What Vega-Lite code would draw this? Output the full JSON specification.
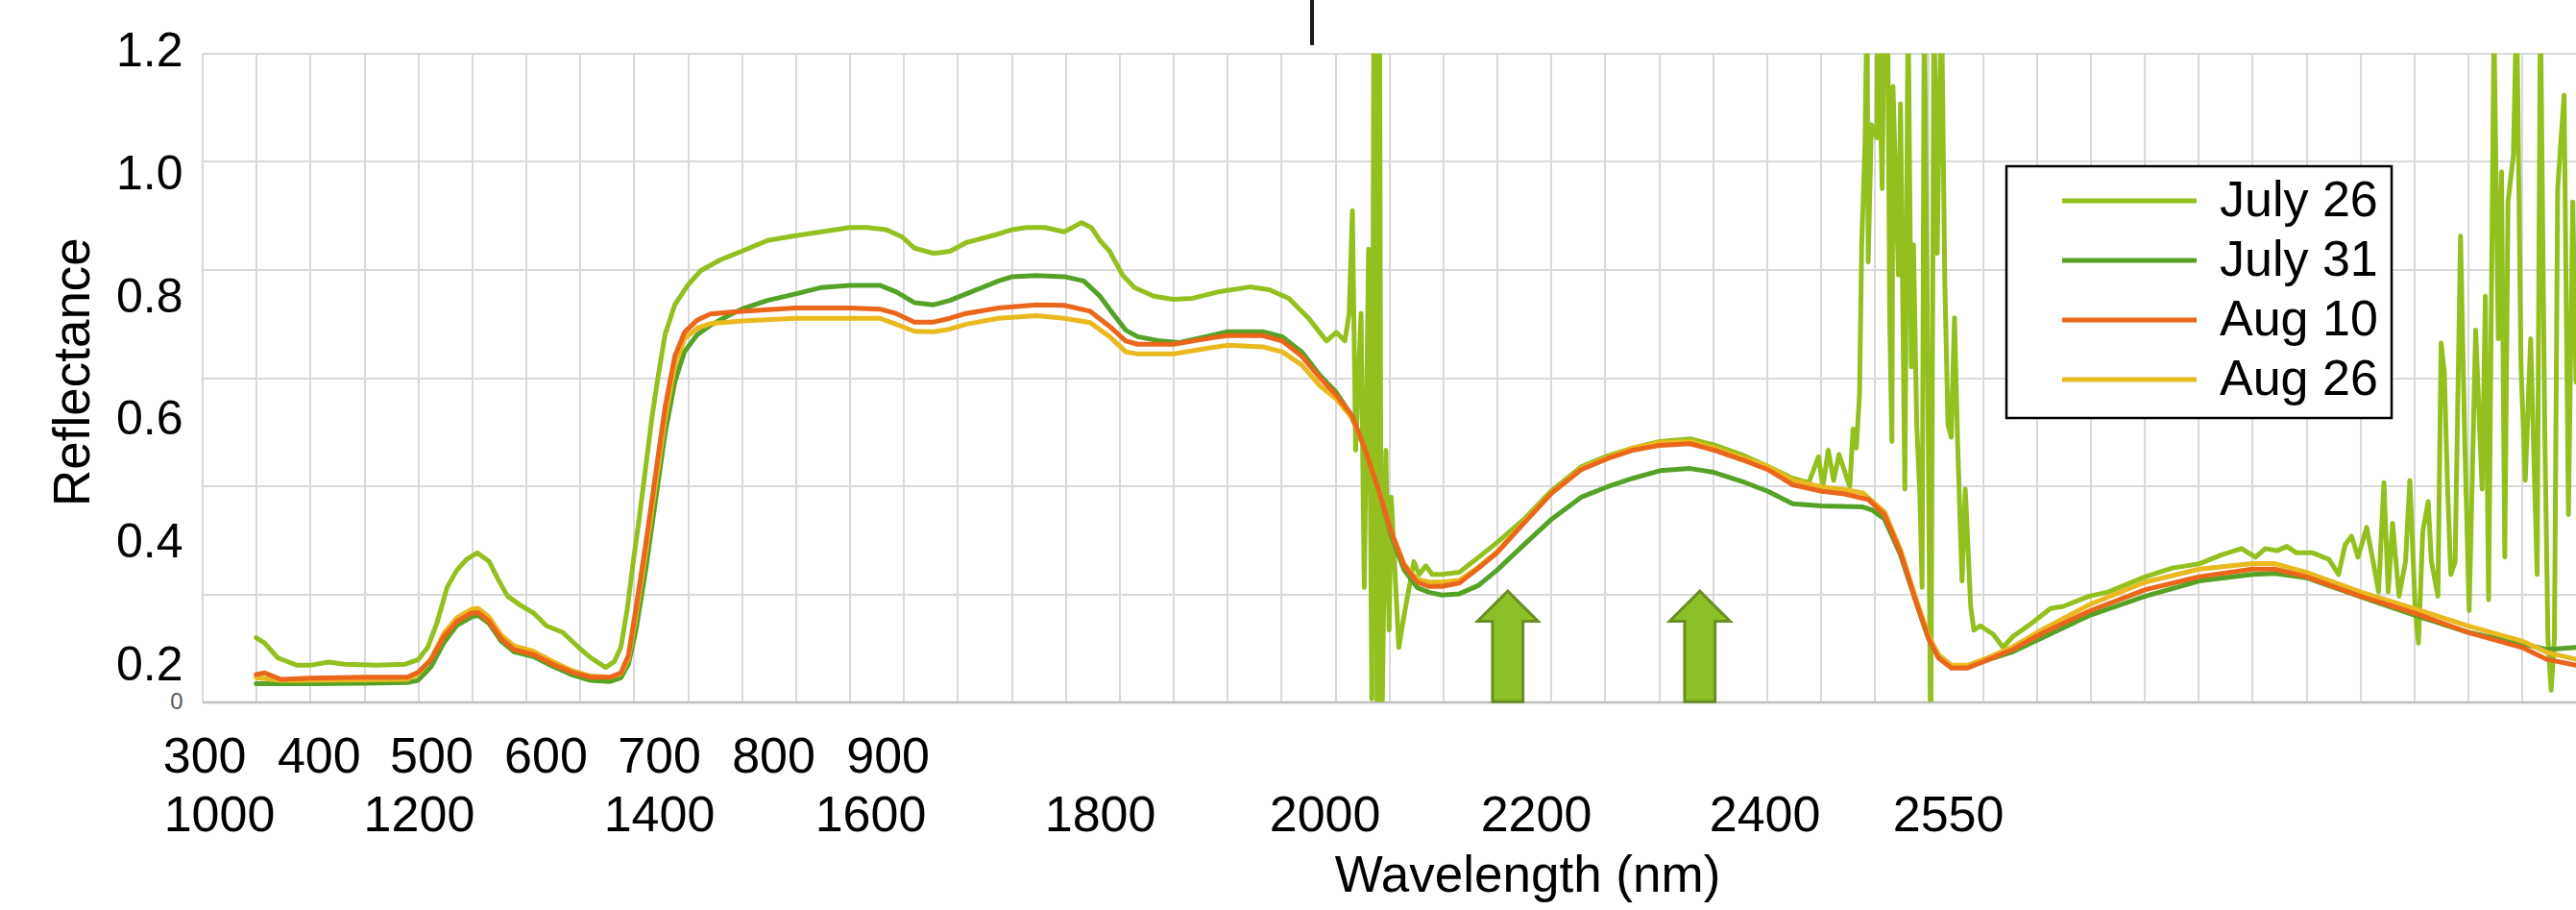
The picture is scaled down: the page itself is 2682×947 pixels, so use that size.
{
"$schema": "https://vega.github.io/schema/vega-lite/v6.json",
"width": 2471.5, "height": 675,
"autosize": {"type": "none"},
"padding": {"left": 210.5, "top": 55.6, "right": 0, "bottom": 216.4},
"background": "white",
"config": {"font": "Liberation Sans", "view": {"stroke": null}},
"datasets": {
"spectra": [
{"s":"July 26","nm":350,"r":0.119},{"s":"July 26","nm":358,"r":0.109},{"s":"July 26","nm":370,"r":0.082},{"s":"July 26","nm":388,"r":0.068},{"s":"July 26","nm":400,"r":0.068},{"s":"July 26","nm":417,"r":0.074},{"s":"July 26","nm":432,"r":0.070},{"s":"July 26","nm":462,"r":0.068},{"s":"July 26","nm":488,"r":0.070},{"s":"July 26","nm":500,"r":0.078},{"s":"July 26","nm":509,"r":0.101},{"s":"July 26","nm":518,"r":0.149},{"s":"July 26","nm":527,"r":0.212},{"s":"July 26","nm":536,"r":0.244},{"s":"July 26","nm":545,"r":0.264},{"s":"July 26","nm":555,"r":0.276},{"s":"July 26","nm":566,"r":0.260},{"s":"July 26","nm":574,"r":0.228},{"s":"July 26","nm":583,"r":0.196},{"s":"July 26","nm":595,"r":0.179},{"s":"July 26","nm":607,"r":0.165},{"s":"July 26","nm":619,"r":0.141},{"s":"July 26","nm":634,"r":0.129},{"s":"July 26","nm":649,"r":0.101},{"s":"July 26","nm":660,"r":0.082},{"s":"July 26","nm":674,"r":0.064},{"s":"July 26","nm":682,"r":0.075},{"s":"July 26","nm":688,"r":0.101},{"s":"July 26","nm":694,"r":0.173},{"s":"July 26","nm":699,"r":0.252},{"s":"July 26","nm":705,"r":0.339},{"s":"July 26","nm":711,"r":0.434},{"s":"July 26","nm":717,"r":0.529},{"s":"July 26","nm":723,"r":0.608},{"s":"July 26","nm":729,"r":0.680},{"s":"July 26","nm":738,"r":0.735},{"s":"July 26","nm":750,"r":0.771},{"s":"July 26","nm":762,"r":0.798},{"s":"July 26","nm":780,"r":0.818},{"s":"July 26","nm":800,"r":0.834},{"s":"July 26","nm":824,"r":0.854},{"s":"July 26","nm":850,"r":0.863},{"s":"July 26","nm":874,"r":0.870},{"s":"July 26","nm":900,"r":0.878},{"s":"July 26","nm":916,"r":0.878},{"s":"July 26","nm":934,"r":0.874},{"s":"July 26","nm":949,"r":0.860},{"s":"July 26","nm":960,"r":0.840},{"s":"July 26","nm":978,"r":0.830},{"s":"July 26","nm":993,"r":0.834},{"s":"July 26","nm":1008,"r":0.850},{"s":"July 26","nm":1023,"r":0.858},{"s":"July 26","nm":1038,"r":0.866},{"s":"July 26","nm":1051,"r":0.874},{"s":"July 26","nm":1064,"r":0.878},{"s":"July 26","nm":1081,"r":0.878},{"s":"July 26","nm":1099,"r":0.870},{"s":"July 26","nm":1115,"r":0.887},{"s":"July 26","nm":1124,"r":0.878},{"s":"July 26","nm":1132,"r":0.854},{"s":"July 26","nm":1141,"r":0.834},{"s":"July 26","nm":1153,"r":0.790},{"s":"July 26","nm":1164,"r":0.767},{"s":"July 26","nm":1182,"r":0.751},{"s":"July 26","nm":1200,"r":0.745},{"s":"July 26","nm":1218,"r":0.747},{"s":"July 26","nm":1242,"r":0.759},{"s":"July 26","nm":1271,"r":0.768},{"s":"July 26","nm":1289,"r":0.763},{"s":"July 26","nm":1307,"r":0.747},{"s":"July 26","nm":1325,"r":0.711},{"s":"July 26","nm":1342,"r":0.668},{"s":"July 26","nm":1351,"r":0.684},{"s":"July 26","nm":1359,"r":0.668},{"s":"July 26","nm":1363,"r":0.719},{"s":"July 26","nm":1366,"r":0.909},{"s":"July 26","nm":1369,"r":0.466},{"s":"July 26","nm":1374,"r":0.719},{"s":"July 26","nm":1377,"r":0.212},{"s":"July 26","nm":1381,"r":0.838},{"s":"July 26","nm":1384,"r":0.006},{"s":"July 26","nm":1386,"r":1.4},{"s":"July 26","nm":1389,"r":-0.1},{"s":"July 26","nm":1391,"r":1.4},{"s":"July 26","nm":1393,"r":-0.1},{"s":"July 26","nm":1397,"r":0.466},{"s":"July 26","nm":1400,"r":0.133},{"s":"July 26","nm":1402,"r":0.379},{"s":"July 26","nm":1409,"r":0.101},{"s":"July 26","nm":1415,"r":0.173},{"s":"July 26","nm":1423,"r":0.260},{"s":"July 26","nm":1428,"r":0.236},{"s":"July 26","nm":1434,"r":0.252},{"s":"July 26","nm":1440,"r":0.236},{"s":"July 26","nm":1449,"r":0.236},{"s":"July 26","nm":1465,"r":0.240},{"s":"July 26","nm":1483,"r":0.268},{"s":"July 26","nm":1500,"r":0.295},{"s":"July 26","nm":1525,"r":0.338},{"s":"July 26","nm":1551,"r":0.392},{"s":"July 26","nm":1578,"r":0.435},{"s":"July 26","nm":1602,"r":0.455},{"s":"July 26","nm":1626,"r":0.470},{"s":"July 26","nm":1651,"r":0.482},{"s":"July 26","nm":1679,"r":0.487},{"s":"July 26","nm":1701,"r":0.476},{"s":"July 26","nm":1730,"r":0.455},{"s":"July 26","nm":1751,"r":0.436},{"s":"July 26","nm":1774,"r":0.414},{"s":"July 26","nm":1789,"r":0.406},{"s":"July 26","nm":1798,"r":0.454},{"s":"July 26","nm":1802,"r":0.398},{"s":"July 26","nm":1807,"r":0.466},{"s":"July 26","nm":1812,"r":0.410},{"s":"July 26","nm":1817,"r":0.458},{"s":"July 26","nm":1827,"r":0.398},{"s":"July 26","nm":1830,"r":0.505},{"s":"July 26","nm":1833,"r":0.470},{"s":"July 26","nm":1836,"r":0.569},{"s":"July 26","nm":1838,"r":0.846},{"s":"July 26","nm":1841,"r":1.028},{"s":"July 26","nm":1843,"r":1.3},{"s":"July 26","nm":1844,"r":0.814},{"s":"July 26","nm":1847,"r":1.068},{"s":"July 26","nm":1852,"r":1.044},{"s":"July 26","nm":1853,"r":1.3},{"s":"July 26","nm":1857,"r":0.95},{"s":"July 26","nm":1859,"r":1.3},{"s":"July 26","nm":1862,"r":1.3},{"s":"July 26","nm":1864,"r":0.703},{"s":"July 26","nm":1866,"r":0.482},{"s":"July 26","nm":1867,"r":1.139},{"s":"July 26","nm":1872,"r":0.790},{"s":"July 26","nm":1874,"r":1.107},{"s":"July 26","nm":1878,"r":0.394},{"s":"July 26","nm":1881,"r":1.3},{"s":"July 26","nm":1884,"r":0.62},{"s":"July 26","nm":1886,"r":0.846},{"s":"July 26","nm":1889,"r":0.513},{"s":"July 26","nm":1892,"r":0.379},{"s":"July 26","nm":1894,"r":0.212},{"s":"July 26","nm":1896,"r":1.3},{"s":"July 26","nm":1899,"r":0.672},{"s":"July 26","nm":1902,"r":-0.1},{"s":"July 26","nm":1905,"r":1.3},{"s":"July 26","nm":1908,"r":0.830},{"s":"July 26","nm":1910,"r":1.1},{"s":"July 26","nm":1912,"r":1.3},{"s":"July 26","nm":1915,"r":0.78},{"s":"July 26","nm":1918,"r":0.513},{"s":"July 26","nm":1921,"r":0.490},{"s":"July 26","nm":1924,"r":0.711},{"s":"July 26","nm":1927,"r":0.474},{"s":"July 26","nm":1931,"r":0.224},{"s":"July 26","nm":1934,"r":0.394},{"s":"July 26","nm":1939,"r":0.177},{"s":"July 26","nm":1942,"r":0.133},{"s":"July 26","nm":1948,"r":0.141},{"s":"July 26","nm":1960,"r":0.125},{"s":"July 26","nm":1969,"r":0.101},{"s":"July 26","nm":1978,"r":0.121},{"s":"July 26","nm":1995,"r":0.145},{"s":"July 26","nm":2013,"r":0.173},{"s":"July 26","nm":2025,"r":0.177},{"s":"July 26","nm":2049,"r":0.196},{"s":"July 26","nm":2067,"r":0.204},{"s":"July 26","nm":2101,"r":0.232},{"s":"July 26","nm":2126,"r":0.248},{"s":"July 26","nm":2151,"r":0.256},{"s":"July 26","nm":2171,"r":0.272},{"s":"July 26","nm":2190,"r":0.284},{"s":"July 26","nm":2203,"r":0.268},{"s":"July 26","nm":2212,"r":0.284},{"s":"July 26","nm":2223,"r":0.280},{"s":"July 26","nm":2232,"r":0.288},{"s":"July 26","nm":2241,"r":0.276},{"s":"July 26","nm":2256,"r":0.276},{"s":"July 26","nm":2271,"r":0.264},{"s":"July 26","nm":2280,"r":0.236},{"s":"July 26","nm":2286,"r":0.291},{"s":"July 26","nm":2292,"r":0.307},{"s":"July 26","nm":2298,"r":0.268},{"s":"July 26","nm":2306,"r":0.323},{"s":"July 26","nm":2312,"r":0.260},{"s":"July 26","nm":2317,"r":0.204},{"s":"July 26","nm":2322,"r":0.406},{"s":"July 26","nm":2326,"r":0.204},{"s":"July 26","nm":2330,"r":0.331},{"s":"July 26","nm":2336,"r":0.196},{"s":"July 26","nm":2342,"r":0.260},{"s":"July 26","nm":2346,"r":0.410},{"s":"July 26","nm":2351,"r":0.173},{"s":"July 26","nm":2354,"r":0.109},{"s":"July 26","nm":2358,"r":0.315},{"s":"July 26","nm":2363,"r":0.371},{"s":"July 26","nm":2366,"r":0.260},{"s":"July 26","nm":2372,"r":0.196},{"s":"July 26","nm":2375,"r":0.664},{"s":"July 26","nm":2378,"r":0.608},{"s":"July 26","nm":2381,"r":0.394},{"s":"July 26","nm":2384,"r":0.236},{"s":"July 26","nm":2388,"r":0.260},{"s":"July 26","nm":2393,"r":0.862},{"s":"July 26","nm":2397,"r":0.474},{"s":"July 26","nm":2401,"r":0.169},{"s":"July 26","nm":2407,"r":0.688},{"s":"July 26","nm":2413,"r":0.394},{"s":"July 26","nm":2416,"r":0.751},{"s":"July 26","nm":2419,"r":0.189},{"s":"July 26","nm":2424,"r":1.25},{"s":"July 26","nm":2428,"r":0.672},{"s":"July 26","nm":2431,"r":0.981},{"s":"July 26","nm":2434,"r":0.268},{"s":"July 26","nm":2437,"r":0.925},{"s":"July 26","nm":2442,"r":1.012},{"s":"July 26","nm":2445,"r":1.3},{"s":"July 26","nm":2449,"r":0.624},{"s":"July 26","nm":2453,"r":0.410},{"s":"July 26","nm":2458,"r":0.672},{"s":"July 26","nm":2464,"r":0.236},{"s":"July 26","nm":2467,"r":1.3},{"s":"July 26","nm":2471,"r":0.513},{"s":"July 26","nm":2474,"r":0.117},{"s":"July 26","nm":2477,"r":0.022},{"s":"July 26","nm":2480,"r":0.117},{"s":"July 26","nm":2483,"r":0.949},{"s":"July 26","nm":2489,"r":1.123},{"s":"July 26","nm":2493,"r":0.347},{"s":"July 26","nm":2497,"r":0.925},{"s":"July 26","nm":2500,"r":0.592},
{"s":"July 31","nm":350,"r":0.034},{"s":"July 31","nm":400,"r":0.034},{"s":"July 31","nm":450,"r":0.035},{"s":"July 31","nm":490,"r":0.036},{"s":"July 31","nm":500,"r":0.040},{"s":"July 31","nm":512,"r":0.065},{"s":"July 31","nm":524,"r":0.110},{"s":"July 31","nm":536,"r":0.142},{"s":"July 31","nm":550,"r":0.158},{"s":"July 31","nm":556,"r":0.160},{"s":"July 31","nm":566,"r":0.145},{"s":"July 31","nm":577,"r":0.113},{"s":"July 31","nm":589,"r":0.093},{"s":"July 31","nm":607,"r":0.084},{"s":"July 31","nm":625,"r":0.066},{"s":"July 31","nm":643,"r":0.050},{"s":"July 31","nm":660,"r":0.040},{"s":"July 31","nm":678,"r":0.038},{"s":"July 31","nm":688,"r":0.045},{"s":"July 31","nm":695,"r":0.070},{"s":"July 31","nm":702,"r":0.133},{"s":"July 31","nm":711,"r":0.244},{"s":"July 31","nm":720,"r":0.371},{"s":"July 31","nm":729,"r":0.497},{"s":"July 31","nm":738,"r":0.592},{"s":"July 31","nm":747,"r":0.648},{"s":"July 31","nm":759,"r":0.680},{"s":"July 31","nm":771,"r":0.697},{"s":"July 31","nm":786,"r":0.713},{"s":"July 31","nm":800,"r":0.727},{"s":"July 31","nm":824,"r":0.743},{"s":"July 31","nm":850,"r":0.755},{"s":"July 31","nm":874,"r":0.767},{"s":"July 31","nm":900,"r":0.771},{"s":"July 31","nm":928,"r":0.771},{"s":"July 31","nm":943,"r":0.759},{"s":"July 31","nm":960,"r":0.739},{"s":"July 31","nm":978,"r":0.735},{"s":"July 31","nm":993,"r":0.743},{"s":"July 31","nm":1008,"r":0.755},{"s":"July 31","nm":1038,"r":0.779},{"s":"July 31","nm":1051,"r":0.787},{"s":"July 31","nm":1073,"r":0.789},{"s":"July 31","nm":1099,"r":0.787},{"s":"July 31","nm":1117,"r":0.779},{"s":"July 31","nm":1132,"r":0.751},{"s":"July 31","nm":1144,"r":0.719},{"s":"July 31","nm":1156,"r":0.688},{"s":"July 31","nm":1167,"r":0.676},{"s":"July 31","nm":1188,"r":0.668},{"s":"July 31","nm":1206,"r":0.665},{"s":"July 31","nm":1230,"r":0.676},{"s":"July 31","nm":1250,"r":0.685},{"s":"July 31","nm":1283,"r":0.685},{"s":"July 31","nm":1301,"r":0.676},{"s":"July 31","nm":1319,"r":0.648},{"s":"July 31","nm":1336,"r":0.604},{"s":"July 31","nm":1351,"r":0.573},{"s":"July 31","nm":1363,"r":0.537},{"s":"July 31","nm":1375,"r":0.482},{"s":"July 31","nm":1390,"r":0.394},{"s":"July 31","nm":1402,"r":0.307},{"s":"July 31","nm":1414,"r":0.244},{"s":"July 31","nm":1426,"r":0.212},{"s":"July 31","nm":1437,"r":0.203},{"s":"July 31","nm":1449,"r":0.198},{"s":"July 31","nm":1465,"r":0.200},{"s":"July 31","nm":1483,"r":0.216},{"s":"July 31","nm":1500,"r":0.244},{"s":"July 31","nm":1525,"r":0.291},{"s":"July 31","nm":1551,"r":0.339},{"s":"July 31","nm":1578,"r":0.379},{"s":"July 31","nm":1602,"r":0.398},{"s":"July 31","nm":1626,"r":0.414},{"s":"July 31","nm":1651,"r":0.428},{"s":"July 31","nm":1679,"r":0.432},{"s":"July 31","nm":1701,"r":0.425},{"s":"July 31","nm":1730,"r":0.406},{"s":"July 31","nm":1751,"r":0.390},{"s":"July 31","nm":1774,"r":0.367},{"s":"July 31","nm":1801,"r":0.363},{"s":"July 31","nm":1839,"r":0.361},{"s":"July 31","nm":1848,"r":0.355},{"s":"July 31","nm":1859,"r":0.339},{"s":"July 31","nm":1874,"r":0.272},{"s":"July 31","nm":1889,"r":0.181},{"s":"July 31","nm":1900,"r":0.117},{"s":"July 31","nm":1910,"r":0.085},{"s":"July 31","nm":1921,"r":0.068},{"s":"July 31","nm":1936,"r":0.066},{"s":"July 31","nm":1978,"r":0.093},{"s":"July 31","nm":2050,"r":0.161},{"s":"July 31","nm":2101,"r":0.196},{"s":"July 31","nm":2151,"r":0.224},{"s":"July 31","nm":2200,"r":0.236},{"s":"July 31","nm":2221,"r":0.238},{"s":"July 31","nm":2250,"r":0.230},{"s":"July 31","nm":2300,"r":0.195},{"s":"July 31","nm":2350,"r":0.161},{"s":"July 31","nm":2400,"r":0.129},{"s":"July 31","nm":2450,"r":0.108},{"s":"July 31","nm":2473,"r":0.097},{"s":"July 31","nm":2500,"r":0.101},
{"s":"Aug 26","nm":350,"r":0.045},{"s":"Aug 26","nm":373,"r":0.040},{"s":"Aug 26","nm":400,"r":0.040},{"s":"Aug 26","nm":450,"r":0.041},{"s":"Aug 26","nm":490,"r":0.042},{"s":"Aug 26","nm":500,"r":0.052},{"s":"Aug 26","nm":512,"r":0.080},{"s":"Aug 26","nm":524,"r":0.127},{"s":"Aug 26","nm":536,"r":0.156},{"s":"Aug 26","nm":550,"r":0.172},{"s":"Aug 26","nm":556,"r":0.173},{"s":"Aug 26","nm":566,"r":0.157},{"s":"Aug 26","nm":577,"r":0.124},{"s":"Aug 26","nm":589,"r":0.104},{"s":"Aug 26","nm":607,"r":0.094},{"s":"Aug 26","nm":625,"r":0.075},{"s":"Aug 26","nm":643,"r":0.058},{"s":"Aug 26","nm":660,"r":0.048},{"s":"Aug 26","nm":678,"r":0.046},{"s":"Aug 26","nm":688,"r":0.052},{"s":"Aug 26","nm":695,"r":0.080},{"s":"Aug 26","nm":702,"r":0.160},{"s":"Aug 26","nm":711,"r":0.275},{"s":"Aug 26","nm":720,"r":0.400},{"s":"Aug 26","nm":729,"r":0.525},{"s":"Aug 26","nm":738,"r":0.622},{"s":"Aug 26","nm":747,"r":0.672},{"s":"Aug 26","nm":759,"r":0.692},{"s":"Aug 26","nm":771,"r":0.700},{"s":"Aug 26","nm":800,"r":0.705},{"s":"Aug 26","nm":850,"r":0.710},{"s":"Aug 26","nm":900,"r":0.710},{"s":"Aug 26","nm":928,"r":0.710},{"s":"Aug 26","nm":943,"r":0.699},{"s":"Aug 26","nm":960,"r":0.686},{"s":"Aug 26","nm":978,"r":0.685},{"s":"Aug 26","nm":993,"r":0.690},{"s":"Aug 26","nm":1008,"r":0.699},{"s":"Aug 26","nm":1038,"r":0.710},{"s":"Aug 26","nm":1073,"r":0.715},{"s":"Aug 26","nm":1099,"r":0.710},{"s":"Aug 26","nm":1123,"r":0.702},{"s":"Aug 26","nm":1141,"r":0.676},{"s":"Aug 26","nm":1156,"r":0.648},{"s":"Aug 26","nm":1167,"r":0.644},{"s":"Aug 26","nm":1200,"r":0.644},{"s":"Aug 26","nm":1230,"r":0.654},{"s":"Aug 26","nm":1250,"r":0.660},{"s":"Aug 26","nm":1283,"r":0.657},{"s":"Aug 26","nm":1301,"r":0.648},{"s":"Aug 26","nm":1319,"r":0.624},{"s":"Aug 26","nm":1336,"r":0.585},{"s":"Aug 26","nm":1351,"r":0.561},{"s":"Aug 26","nm":1366,"r":0.525},{"s":"Aug 26","nm":1378,"r":0.466},{"s":"Aug 26","nm":1390,"r":0.394},{"s":"Aug 26","nm":1402,"r":0.315},{"s":"Aug 26","nm":1414,"r":0.255},{"s":"Aug 26","nm":1426,"r":0.227},{"s":"Aug 26","nm":1437,"r":0.222},{"s":"Aug 26","nm":1449,"r":0.222},{"s":"Aug 26","nm":1465,"r":0.225},{"s":"Aug 26","nm":1483,"r":0.250},{"s":"Aug 26","nm":1500,"r":0.278},{"s":"Aug 26","nm":1525,"r":0.333},{"s":"Aug 26","nm":1551,"r":0.388},{"s":"Aug 26","nm":1578,"r":0.432},{"s":"Aug 26","nm":1602,"r":0.452},{"s":"Aug 26","nm":1626,"r":0.470},{"s":"Aug 26","nm":1651,"r":0.480},{"s":"Aug 26","nm":1679,"r":0.482},{"s":"Aug 26","nm":1701,"r":0.470},{"s":"Aug 26","nm":1730,"r":0.450},{"s":"Aug 26","nm":1751,"r":0.436},{"s":"Aug 26","nm":1774,"r":0.410},{"s":"Aug 26","nm":1801,"r":0.398},{"s":"Aug 26","nm":1822,"r":0.393},{"s":"Aug 26","nm":1839,"r":0.387},{"s":"Aug 26","nm":1859,"r":0.352},{"s":"Aug 26","nm":1874,"r":0.282},{"s":"Aug 26","nm":1889,"r":0.187},{"s":"Aug 26","nm":1900,"r":0.123},{"s":"Aug 26","nm":1909,"r":0.088},{"s":"Aug 26","nm":1921,"r":0.068},{"s":"Aug 26","nm":1936,"r":0.068},{"s":"Aug 26","nm":1950,"r":0.078},{"s":"Aug 26","nm":1978,"r":0.102},{"s":"Aug 26","nm":2007,"r":0.136},{"s":"Aug 26","nm":2050,"r":0.181},{"s":"Aug 26","nm":2101,"r":0.222},{"s":"Aug 26","nm":2151,"r":0.246},{"s":"Aug 26","nm":2200,"r":0.256},{"s":"Aug 26","nm":2221,"r":0.256},{"s":"Aug 26","nm":2250,"r":0.240},{"s":"Aug 26","nm":2300,"r":0.204},{"s":"Aug 26","nm":2350,"r":0.173},{"s":"Aug 26","nm":2400,"r":0.141},{"s":"Aug 26","nm":2450,"r":0.113},{"s":"Aug 26","nm":2473,"r":0.092},{"s":"Aug 26","nm":2500,"r":0.079},
{"s":"Aug 10","nm":350,"r":0.051},{"s":"Aug 10","nm":358,"r":0.054},{"s":"Aug 10","nm":373,"r":0.042},{"s":"Aug 10","nm":400,"r":0.044},{"s":"Aug 10","nm":450,"r":0.046},{"s":"Aug 10","nm":490,"r":0.046},{"s":"Aug 10","nm":500,"r":0.055},{"s":"Aug 10","nm":512,"r":0.078},{"s":"Aug 10","nm":524,"r":0.121},{"s":"Aug 10","nm":536,"r":0.149},{"s":"Aug 10","nm":550,"r":0.165},{"s":"Aug 10","nm":556,"r":0.165},{"s":"Aug 10","nm":566,"r":0.149},{"s":"Aug 10","nm":577,"r":0.117},{"s":"Aug 10","nm":589,"r":0.097},{"s":"Aug 10","nm":607,"r":0.088},{"s":"Aug 10","nm":625,"r":0.070},{"s":"Aug 10","nm":643,"r":0.055},{"s":"Aug 10","nm":660,"r":0.046},{"s":"Aug 10","nm":678,"r":0.046},{"s":"Aug 10","nm":688,"r":0.054},{"s":"Aug 10","nm":695,"r":0.086},{"s":"Aug 10","nm":702,"r":0.173},{"s":"Aug 10","nm":711,"r":0.291},{"s":"Aug 10","nm":720,"r":0.418},{"s":"Aug 10","nm":729,"r":0.545},{"s":"Aug 10","nm":738,"r":0.640},{"s":"Aug 10","nm":747,"r":0.684},{"s":"Aug 10","nm":759,"r":0.707},{"s":"Aug 10","nm":771,"r":0.718},{"s":"Aug 10","nm":800,"r":0.723},{"s":"Aug 10","nm":850,"r":0.729},{"s":"Aug 10","nm":900,"r":0.729},{"s":"Aug 10","nm":928,"r":0.727},{"s":"Aug 10","nm":943,"r":0.719},{"s":"Aug 10","nm":960,"r":0.703},{"s":"Aug 10","nm":978,"r":0.703},{"s":"Aug 10","nm":993,"r":0.710},{"s":"Aug 10","nm":1008,"r":0.719},{"s":"Aug 10","nm":1038,"r":0.729},{"s":"Aug 10","nm":1073,"r":0.735},{"s":"Aug 10","nm":1099,"r":0.734},{"s":"Aug 10","nm":1123,"r":0.723},{"s":"Aug 10","nm":1141,"r":0.695},{"s":"Aug 10","nm":1156,"r":0.668},{"s":"Aug 10","nm":1167,"r":0.662},{"s":"Aug 10","nm":1200,"r":0.662},{"s":"Aug 10","nm":1230,"r":0.672},{"s":"Aug 10","nm":1250,"r":0.678},{"s":"Aug 10","nm":1283,"r":0.678},{"s":"Aug 10","nm":1301,"r":0.668},{"s":"Aug 10","nm":1319,"r":0.640},{"s":"Aug 10","nm":1336,"r":0.600},{"s":"Aug 10","nm":1351,"r":0.568},{"s":"Aug 10","nm":1366,"r":0.529},{"s":"Aug 10","nm":1378,"r":0.466},{"s":"Aug 10","nm":1390,"r":0.394},{"s":"Aug 10","nm":1402,"r":0.315},{"s":"Aug 10","nm":1414,"r":0.252},{"s":"Aug 10","nm":1426,"r":0.222},{"s":"Aug 10","nm":1437,"r":0.214},{"s":"Aug 10","nm":1449,"r":0.214},{"s":"Aug 10","nm":1465,"r":0.220},{"s":"Aug 10","nm":1483,"r":0.248},{"s":"Aug 10","nm":1500,"r":0.276},{"s":"Aug 10","nm":1525,"r":0.331},{"s":"Aug 10","nm":1551,"r":0.387},{"s":"Aug 10","nm":1578,"r":0.430},{"s":"Aug 10","nm":1602,"r":0.450},{"s":"Aug 10","nm":1626,"r":0.466},{"s":"Aug 10","nm":1651,"r":0.475},{"s":"Aug 10","nm":1679,"r":0.478},{"s":"Aug 10","nm":1701,"r":0.466},{"s":"Aug 10","nm":1730,"r":0.446},{"s":"Aug 10","nm":1751,"r":0.430},{"s":"Aug 10","nm":1774,"r":0.402},{"s":"Aug 10","nm":1801,"r":0.390},{"s":"Aug 10","nm":1822,"r":0.385},{"s":"Aug 10","nm":1839,"r":0.377},{"s":"Aug 10","nm":1844,"r":0.375},{"s":"Aug 10","nm":1859,"r":0.347},{"s":"Aug 10","nm":1874,"r":0.276},{"s":"Aug 10","nm":1889,"r":0.181},{"s":"Aug 10","nm":1900,"r":0.117},{"s":"Aug 10","nm":1909,"r":0.082},{"s":"Aug 10","nm":1921,"r":0.063},{"s":"Aug 10","nm":1936,"r":0.063},{"s":"Aug 10","nm":1950,"r":0.074},{"s":"Aug 10","nm":1978,"r":0.097},{"s":"Aug 10","nm":2007,"r":0.129},{"s":"Aug 10","nm":2050,"r":0.169},{"s":"Aug 10","nm":2101,"r":0.208},{"s":"Aug 10","nm":2151,"r":0.232},{"s":"Aug 10","nm":2200,"r":0.246},{"s":"Aug 10","nm":2221,"r":0.246},{"s":"Aug 10","nm":2250,"r":0.232},{"s":"Aug 10","nm":2300,"r":0.196},{"s":"Aug 10","nm":2350,"r":0.165},{"s":"Aug 10","nm":2400,"r":0.129},{"s":"Aug 10","nm":2450,"r":0.101},{"s":"Aug 10","nm":2473,"r":0.079},{"s":"Aug 10","nm":2500,"r":0.068}
],
"arrows": [{"nm":1510,"r":0.103},{"nm":1688,"r":0.103}],
"marker": [{"nm":1328.6,"r":1.2182,"r2":1.2917}]
},
"layer": [
{
"data": {"name": "spectra"},
"mark": {"type": "line", "strokeWidth": 5, "clip": true, "strokeJoin": "round", "strokeCap": "round"},
"encoding": {
"x": {"field": "nm", "type": "quantitative", "scale": {"domain": [300, 2500], "nice": false, "zero": false},
"axis": {"orient": "bottom", "values": [300,350,400,450,500,550,600,650,700,750,800,850,900,950,1000,1050,1100,1150,1200,1250,1300,1350,1400,1450,1500,1550,1600,1650,1700,1750,1800,1850,1900,1950,2000,2050,2100,2150,2200,2250,2300,2350,2400,2450,2500],
"grid": true, "gridColor": "#D9D9D9", "gridWidth": 2, "domain": true, "domainColor": "#BFBFBF", "domainWidth": 2.5,
"ticks": false, "tickSize": 0, "labels": false, "title": null}},
"y": {"field": "r", "type": "quantitative", "scale": {"domain": [0, 1.2], "nice": false, "zero": false},
"axis": {"orient": "left", "values": [0, 0.2, 0.4, 0.6, 0.8, 1, 1.2], "grid": true, "gridColor": "#D9D9D9", "gridWidth": 2, "domain": false,
"ticks": false, "tickSize": 0,
"labelExpr": "datum.value === 0 ? '0' : ''",
"labelFontSize": 24, "labelColor": "#595959",
"labelPadding": 20.5, "labelOverlap": false, "labelFlush": false, "labelBound": false,
"title": "Reflectance", "titleFontSize": 53, "titleFontWeight": "normal", "titleColor": "black",
"titleX": -118.5, "titleY": 331, "titleBaseline": "alphabetic", "titleAlign": "center", "titleAngle": -90}},
"color": {"field": "s", "type": "nominal",
"scale": {"domain": ["July 26", "July 31", "Aug 10", "Aug 26"], "range": ["#93C01F", "#56A227", "#E9661B", "#E9B91F"]},
"legend": {"title": null, "orient": "none", "legendX": 1878.5, "legendY": 117.4, "symbolType": "M-1,0L-1,0M-0.4,0L1.6,0",
"symbolSize": 19600, "symbolStrokeWidth": 5, "clipHeight": 45, "rowPadding": 9, "labelFontSize": 52,
"labelColor": "black", "labelLimit": 0, "padding": 13.5, "symbolOffset": 0, "labelOffset": 63.5,
"strokeColor": "black", "fillColor": "white",
"encode": {"legend": {"update": {"strokeWidth": {"value": 2.5}}}}}}
}
},
{
"data": {"name": "arrows"},
"mark": {"type": "point", "shape": "M0,-1L0.548,-0.457L0.276,-0.457L0.276,1L-0.276,1L-0.276,-0.457L-0.548,-0.457Z",
"size": 13225, "filled": true, "fill": "#8DC026", "stroke": "#6B8E23", "strokeWidth": 3, "opacity": 1},
"encoding": {
"x": {"field": "nm", "type": "quantitative", "scale": {"domain": [300, 2500], "nice": false, "zero": false},
"axis": {"orient": "bottom", "values": [315.6, 500.7, 723.3, 919.1, 1131.9, 1340.2, 1536, 1747.9, 1917.9],
"labelExpr": "['1000','1200','1400','1600','1800','2000','2200','2400','2550'][indexof([315.6,500.7,723.3,919.1,1131.9,1340.2,1536,1747.9,1917.9], datum.value)]",
"grid": false, "domain": false, "ticks": false, "tickSize": 0, "labelFontSize": 52, "labelColor": "black",
"labelPadding": 92.5, "labelOverlap": false, "labelFlush": false, "labelBound": false,
"title": "Wavelength (nm)", "titleFontSize": 53, "titleFontWeight": "normal", "titleColor": "black",
"titleX": 1379.5, "titleY": 197, "titleBaseline": "alphabetic", "titleAlign": "center"}},
"y": {"field": "r", "type": "quantitative", "scale": {"domain": [0, 1.2], "nice": false, "zero": false}, "axis": null}
}
},
{
"data": {"name": "marker"},
"mark": {"type": "rule", "color": "#1a1a1a", "strokeWidth": 4},
"encoding": {
"x": {"field": "nm", "type": "quantitative", "scale": {"domain": [300, 2500], "nice": false, "zero": false},
"axis": {"orient": "bottom", "values": [301.9, 408, 512.3, 618.2, 723.3, 829.2, 935.2],
"labelExpr": "['300','400','500','600','700','800','900'][indexof([301.9,408,512.3,618.2,723.3,829.2,935.2], datum.value)]",
"grid": false, "domain": false, "ticks": false, "tickSize": 0, "labelFontSize": 52, "labelColor": "black",
"labelPadding": 32.3, "labelOverlap": false, "labelFlush": false, "labelBound": false, "title": null}},
"y": {"field": "r", "type": "quantitative", "scale": {"domain": [0.148, 1.2047], "nice": false, "zero": false},
"axis": {"orient": "left", "values": [0.2, 0.4, 0.6, 0.8, 1, 1.2], "format": ".1f", "grid": false, "domain": false,
"ticks": false, "tickSize": 0, "labelFontSize": 50, "labelColor": "black", "labelPadding": 20.5, "labelOffset": -5,
"labelOverlap": false, "labelFlush": false, "labelBound": false, "title": null}},
"y2": {"field": "r2"}
}
}
],
"resolve": {"scale": {"y": "independent"}, "axis": {"x": "independent"}}
}
